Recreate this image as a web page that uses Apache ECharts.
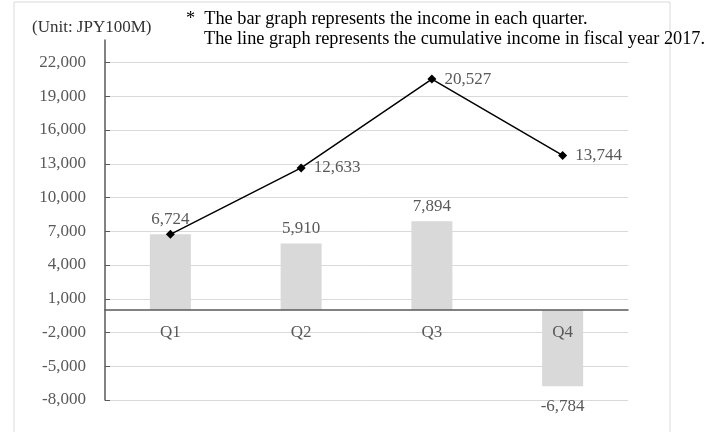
<!DOCTYPE html>
<html>
<head>
<meta charset="utf-8">
<script src="https://cdn.jsdelivr.net/npm/echarts@6/dist/echarts.min.js"></script>
<style>
  html, body { margin: 0; padding: 0; background: #fff; }
  #chart { width: 721px; height: 432px; }
</style>
</head>
<body>
<div id="chart"></div>
<script>
var quarters = ['Q1', 'Q2', 'Q3', 'Q4'];
var quarterIncome = [6724, 5910, 7894, -6784];
var cumulativeIncome = [6724, 12633, 20527, 13744];

var fontFamily = '"Liberation Serif", "Times New Roman", serif';
var grayText = '#595959';

function fmt(v) {
    return echarts.format.addCommas(v);
}

var myChart = echarts.init(document.getElementById('chart'));

var barData = quarterIncome.map(function (v) {
    return {
        value: v,
        label: { position: v < 0 ? 'bottom' : 'top', distance: v < 0 ? 12 : 6 }
    };
});

var lineData = cumulativeIncome.map(function (v, i) {
    // Q1 shares its label with the bar
    return { value: v, label: { show: i > 0 } };
});

var option = {
    backgroundColor: '#ffffff',
    animation: false,
    textStyle: { fontFamily: fontFamily },
    graphic: [
        {
            type: 'rect',
            shape: { x: 14, y: 2, width: 656, height: 440 },
            style: { fill: 'none', stroke: '#d9d9d9', lineWidth: 1 },
            silent: true
        },
        {
            type: 'text',
            left: 32,
            top: 19,
            style: { text: '(Unit: JPY100M)', font: '17px ' + fontFamily, fill: '#333333' }
        },
        {
            type: 'text',
            left: 186,
            top: 10,
            style: {
                text: '*  The bar graph represents the income in each quarter.',
                font: '18.3px ' + fontFamily, fill: '#000000'
            }
        },
        {
            type: 'text',
            left: 204,
            top: 30,
            style: {
                text: 'The line graph represents the cumulative income in fiscal year 2017.',
                font: '18.3px ' + fontFamily, fill: '#000000'
            }
        }
    ],
    grid: { left: 105, right: 93, top: 40, bottom: 32 },
    xAxis: {
        type: 'category',
        data: quarters,
        // sit the axis on the zero line
        offset: -90,
        z: 5,
        axisLine: { onZero: false, lineStyle: { color: '#595959', width: 1.5 } },
        axisTick: { inside: true, length: 4, lineStyle: { color: '#595959' } },
        axisLabel: { margin: 14, color: grayText, fontSize: 17, fontFamily: fontFamily },
        splitLine: { show: false }
    },
    yAxis: {
        type: 'value',
        min: -8000,
        max: 24000,
        interval: 3000,
        axisLine: { show: true, lineStyle: { color: '#595959', width: 1.5 } },
        axisTick: { show: true, inside: true, length: 5, lineStyle: { color: '#595959' } },
        axisLabel: {
            margin: 19,
            color: grayText,
            fontSize: 17,
            fontFamily: fontFamily,
            showMaxLabel: false,
            formatter: function (v) { return v === 24000 ? '' : fmt(v); }
        },
        splitLine: { show: true, showMaxLine: false, lineStyle: { color: '#d9d9d9', width: 1 } }
    },
    series: [
        {
            name: 'Quarter',
            type: 'bar',
            data: barData,
            barWidth: 41,
            itemStyle: { color: '#d9d9d9' },
            label: {
                show: true,
                color: grayText,
                fontSize: 17,
                fontFamily: fontFamily,
                formatter: function (p) { return fmt(p.value); }
            },
            z: 1
        },
        {
            name: 'Cumulative',
            type: 'line',
            data: lineData,
            symbol: 'diamond',
            symbolSize: 9,
            lineStyle: { color: '#000000', width: 1.5 },
            itemStyle: { color: '#000000' },
            label: {
                position: 'right',
                distance: 8,
                color: grayText,
                fontSize: 17,
                fontFamily: fontFamily,
                formatter: function (p) { return fmt(p.value); }
            },
            z: 6
        }
    ]
};

myChart.setOption(option);
</script>
</body>
</html>
